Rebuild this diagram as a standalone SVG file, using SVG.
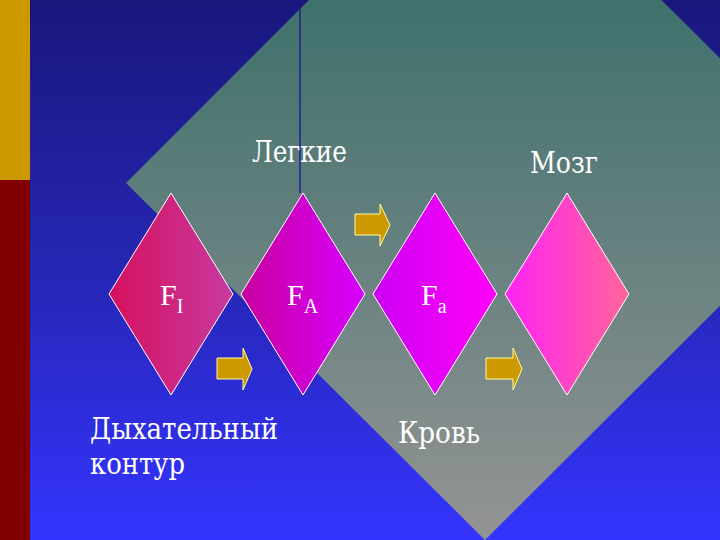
<svg xmlns="http://www.w3.org/2000/svg" width="720" height="540" viewBox="0 0 720 540">
<defs>
<linearGradient id="bg" x1="0" y1="0" x2="0" y2="540" gradientUnits="userSpaceOnUse">
<stop offset="0" stop-color="#19177c"/>
<stop offset="0.5" stop-color="#2626b4"/>
<stop offset="1" stop-color="#3434ff"/>
</linearGradient>
<linearGradient id="big" x1="0" y1="0" x2="0" y2="540" gradientUnits="userSpaceOnUse">
<stop offset="0" stop-color="#3f716d"/>
<stop offset="1" stop-color="#949494"/>
</linearGradient>
<linearGradient id="g1" x1="0" y1="0" x2="1" y2="0">
<stop offset="0" stop-color="#d6105e"/>
<stop offset="1" stop-color="#c83aa0"/>
</linearGradient>
<linearGradient id="g2" x1="0" y1="0" x2="1" y2="0">
<stop offset="0" stop-color="#c8009e"/>
<stop offset="1" stop-color="#d800ff"/>
</linearGradient>
<linearGradient id="g3" x1="0" y1="0" x2="1" y2="0">
<stop offset="0" stop-color="#cc00f4"/>
<stop offset="1" stop-color="#ff00f8"/>
</linearGradient>
<linearGradient id="g4" x1="0" y1="0" x2="1" y2="0">
<stop offset="0" stop-color="#ff22f4"/>
<stop offset="1" stop-color="#ff6699"/>
</linearGradient>
</defs>
<style>
.d{stroke:#ffffff;stroke-width:1}
.t{fill:#ffffff;font-size:29px;font-family:"DejaVu Serif",serif}
.f{fill:#ffffff;font-size:30px;font-family:"Liberation Serif",serif}
.s{font-size:20px}
.arr{fill:#cc9900;stroke:#ffff99;stroke-width:1}
</style>
<rect x="0" y="0" width="720" height="540" fill="url(#bg)"/>
<rect x="0" y="0" width="30" height="180" fill="#cc9900"/>
<rect x="0" y="180" width="30" height="360" fill="#800000"/>
<polygon points="126,183 485,-176 844,182 485,540" fill="url(#big)"/>
<line x1="300" y1="8" x2="300" y2="193" stroke="#22228c" stroke-width="1.5"/>
<text class="t" x="252" y="162" textLength="95" lengthAdjust="spacingAndGlyphs">Легкие</text>
<text class="t" x="530" y="173" textLength="68" lengthAdjust="spacingAndGlyphs">Мозг</text>
<g id="node-FI">
<polygon class="d" points="171,193 233,294 171,395 109,294" fill="url(#g1)"/>
<text class="f" x="160" y="305">F<tspan class="s" dy="8">I</tspan></text>
</g>
<g id="node-FA">
<polygon class="d" points="303,193 365,294 303,395 241,294" fill="url(#g2)"/>
<text class="f" x="287" y="305">F<tspan class="s" dy="8">A</tspan></text>
</g>
<g id="node-Fa">
<polygon class="d" points="435,193 497,294 435,395 373,294" fill="url(#g3)"/>
<text class="f" x="421" y="305">F<tspan class="s" dy="8">a</tspan></text>
</g>
<g id="node-brain">
<polygon class="d" points="567,193 629,294 567,395 505,294" fill="url(#g4)"/>
</g>
<g id="connectors">
<polygon class="arr" points="217,358 243,358 243,348 252,369 243,390 243,379 217,379"/>
<polygon class="arr" points="355,214 380,214 380,204 390,225 380,246 380,235 355,235"/>
<polygon class="arr" points="486,358 513,358 513,348 522,369 513,390 513,379 486,379"/>
</g>
<text class="t" x="90" y="439" textLength="188" lengthAdjust="spacingAndGlyphs">Дыхательный</text>
<text class="t" x="90" y="474" textLength="95" lengthAdjust="spacingAndGlyphs">контур</text>
<text class="t" x="398" y="443" textLength="82" lengthAdjust="spacingAndGlyphs">Кровь</text>
</svg>
